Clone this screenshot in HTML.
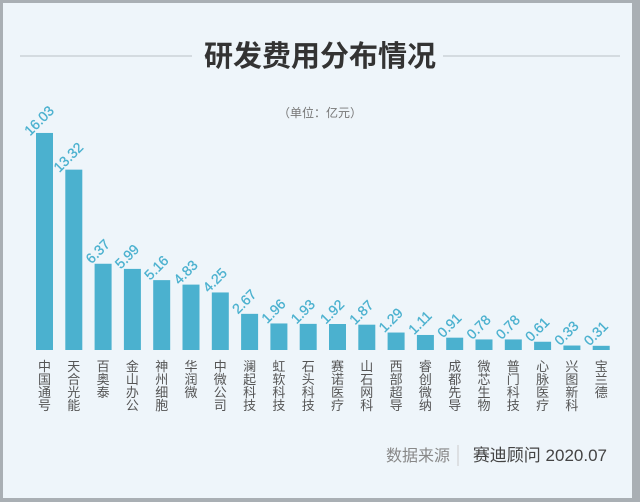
<!DOCTYPE html>
<html><head><meta charset="utf-8"><style>
html,body{margin:0;padding:0;}
body{width:640px;height:502px;background:#a9afb4;position:relative;overflow:hidden;font-family:"Liberation Sans","Noto Sans CJK SC",sans-serif;}
#c{position:absolute;left:3px;top:3px;width:629px;height:495px;background:#eef5fa;}
</style></head><body>
<div id="c"></div>
<svg width="640" height="502" style="position:absolute;left:0;top:0" font-family="Liberation Sans, Noto Sans CJK SC, sans-serif">
<line x1="20" y1="56" x2="192" y2="56" stroke="#b9c1c7" stroke-width="1"/>
<line x1="443" y1="56" x2="620" y2="56" stroke="#b9c1c7" stroke-width="1"/>
<text x="320" y="66" text-anchor="middle" font-size="29" font-weight="bold" fill="#333">研发费用分布情况</text>
<text x="320" y="117" text-anchor="middle" font-size="12" fill="#777">（单位：亿元）</text>
<g id="bars"></g>
<text x="450" y="461" text-anchor="end" font-size="16" fill="#888">数据来源</text>
<line x1="458" y1="445" x2="458" y2="466" stroke="#ccc"/>
<text x="607" y="461" text-anchor="end" font-size="17" fill="#444">赛迪顾问  2020.07</text>
</svg>
<script>
var d=[["中国通号",16.03],["天合光能",13.32],["百奥泰",6.37],["金山办公",5.99],["神州细胞",5.16],["华润微",4.83],["中微公司",4.25],["澜起科技",2.67],["虹软科技",1.96],["石头科技",1.93],["赛诺医疗",1.92],["山石网科",1.87],["西部超导",1.29],["睿创微纳",1.11],["成都先导",0.91],["微芯生物",0.78],["普门科技",0.78],["心脉医疗",0.61],["兴图新科",0.33],["宝兰德",0.31]];
var s="";
d.forEach(function(e,i){
var x=36+i*29.3,h=e[1]*13.54,t=350-h,cx=x+8.5;
s+='<rect x="'+x+'" y="'+t+'" width="17" height="'+h+'" fill="#4bb1cf"/>';
s+='<text transform="translate('+(cx-2)+','+(t-9)+') rotate(-45)" text-anchor="middle" font-size="14" fill="#4bb1cf" stroke="#4bb1cf" stroke-width="0.3">'+e[1].toFixed(2)+'</text>';
for(var k=0;k<e[0].length;k++){s+='<text x="'+cx+'" y="'+(371+k*13)+'" text-anchor="middle" font-size="13" fill="#555">'+e[0][k]+'</text>';}
});
document.getElementById("bars").innerHTML=s;
</script>
</body></html>
